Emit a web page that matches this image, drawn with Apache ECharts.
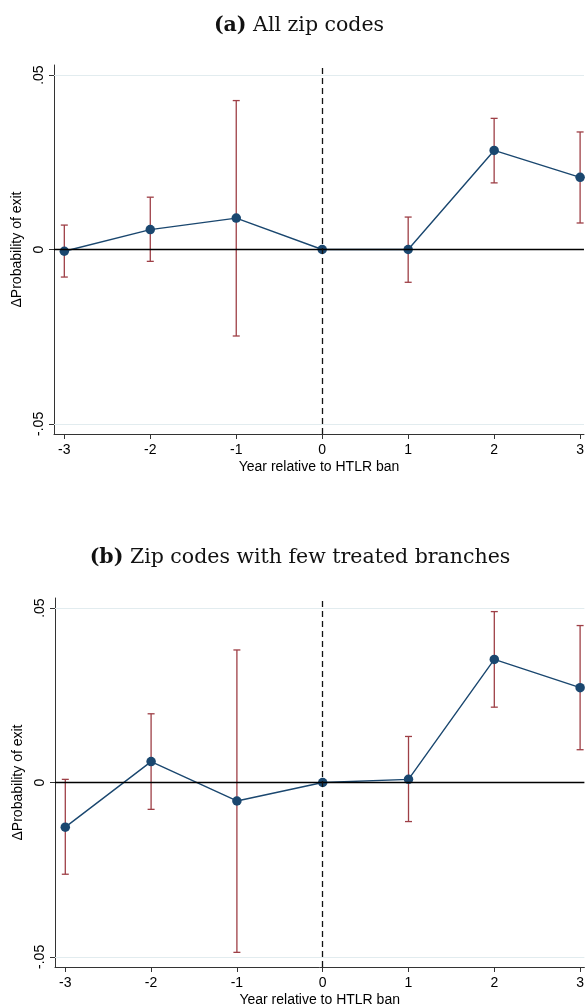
<!DOCTYPE html>
<html>
<head>
<meta charset="utf-8">
<script src="https://cdn.jsdelivr.net/npm/echarts@6/dist/echarts.min.js"></script>
<style>
  html, body { margin: 0; padding: 0; background: #fff; }
  #chart { width: 587px; height: 1008px; }
</style>
</head>
<body>
<div id="chart"></div>
<script>
// Event-study estimates: change in probability of exit by year relative to the HTLR ban
const years = [-3, -2, -1, 0, 1, 2, 3];

// (a) All zip codes
const estAll = [-0.0005, 0.0057, 0.0090, 0, 0.0000, 0.0284, 0.0207];
const loAll  = [-0.0079, -0.0034, -0.0248, null, -0.0094, 0.0191, 0.0076];
const hiAll  = [0.0070, 0.0150, 0.0427, null, 0.0093, 0.0376, 0.0337];

// (b) Zip codes with few treated branches
const estFew = [-0.0128, 0.0060, -0.0053, 0, 0.0009, 0.0353, 0.0272];
const loFew  = [-0.0263, -0.0077, -0.0487, null, -0.0112, 0.0216, 0.0094];
const hiFew  = [0.0009, 0.0197, 0.0380, null, 0.0132, 0.0490, 0.0450];

const xTicks = [-3, -2, -1, 0, 1, 2, 3];
const yTicks = [-0.05, 0, 0.05];

const panelTitles = [
  { tag: '(a)', text: 'All zip codes' },
  { tag: '(b)', text: 'Zip codes with few treated branches' }
];
const xName = 'Year relative to HTLR ban';
const yName = '\u0394Probability of exit';

const NAVY = '#1a476f';
const MAROON = '#9e3f46';
const GRID = '#e2ecef';
const SANS = '"Liberation Sans", Arial, Helvetica, sans-serif';
const SERIF = '"DejaVu Serif", serif';

function yLabel(v) {
  if (Math.abs(v) < 1e-12) return '0';
  return (v < 0 ? '-' : '') + String(Math.abs(v)).replace(/^0\./, '.');
}

function ciItem(params, api) {
  const x = api.value(0);
  const pLo = api.coord([x, api.value(1)]);
  const pHi = api.coord([x, api.value(2)]);
  const w = 3.5;
  const style = { stroke: MAROON, lineWidth: 1.3, fill: null };
  return {
    type: 'group',
    children: [
      { type: 'line', shape: { x1: pLo[0], y1: pLo[1], x2: pHi[0], y2: pHi[1] }, style },
      { type: 'line', shape: { x1: pLo[0] - w, y1: pLo[1], x2: pLo[0] + w, y2: pLo[1] }, style },
      { type: 'line', shape: { x1: pHi[0] - w, y1: pHi[1], x2: pHi[0] + w, y2: pHi[1] }, style }
    ]
  };
}

// plot areas run to the right edge of the page; the x range stops just past 3
const grids = [
  { left: 54, top: 65, right: 0, height: 369 },
  { left: 55, top: 598, right: 0, height: 369 }
];
const xRanges = [[-3.12, 3.045], [-3.12, 3.05]];

const panels = [
  { est: estAll, lo: loAll, hi: hiAll },
  { est: estFew, lo: loFew, hi: hiFew }
];

const xAxes = grids.map((g, i) => ({
  type: 'value', gridIndex: i, min: xRanges[i][0], max: xRanges[i][1],
  axisLine: { show: true, onZero: false, lineStyle: { color: '#333', width: 1 } },
  axisTick: { show: true, customValues: xTicks, length: 5, lineStyle: { color: '#333' } },
  axisLabel: { customValues: xTicks, color: '#000', fontFamily: SANS, fontSize: 14, margin: 9 },
  splitLine: { show: false },
  name: xName, nameLocation: 'middle', nameGap: 26,
  nameTextStyle: { color: '#000', fontFamily: SANS, fontSize: 14 }
}));

const yAxes = grids.map((g, i) => ({
  type: 'value', gridIndex: i, min: -0.0529, max: 0.0529,
  axisLine: { show: true, onZero: false, lineStyle: { color: '#333', width: 1 } },
  axisTick: { show: true, customValues: yTicks, length: 5, lineStyle: { color: '#333' } },
  axisLabel: { customValues: yTicks, rotate: 90, color: '#000', fontFamily: SANS, fontSize: 14, margin: 8, formatter: yLabel },
  splitLine: { show: false },
  name: yName, nameLocation: 'middle', nameGap: 19,
  nameTextStyle: { color: '#000', fontFamily: SANS, fontSize: 14 }
}));

const series = [];
panels.forEach((p, i) => {
  // confidence intervals, reference grid lines and zero line
  series.push({
    type: 'custom', xAxisIndex: i, yAxisIndex: i, z: 2,
    renderItem: ciItem,
    data: years.map((y, k) => [y, p.lo[k], p.hi[k]]).filter(d => d[1] !== null),
    markLine: {
      silent: true, symbol: 'none', label: { show: false },
      data: [
        { yAxis: 0.05, lineStyle: { color: GRID, width: 1.2, type: 'solid' } },
        { yAxis: -0.05, lineStyle: { color: GRID, width: 1.2, type: 'solid' } },
        { yAxis: 0, lineStyle: { color: '#000', width: 1.3, type: 'solid' } }
      ]
    }
  });
  // point estimates
  series.push({
    type: 'line', xAxisIndex: i, yAxisIndex: i, z: 3,
    data: years.map((y, k) => [y, p.est[k]]),
    symbol: 'circle', symbolSize: 9.5, showAllSymbol: true,
    lineStyle: { color: NAVY, width: 1.4 },
    itemStyle: { color: NAVY },
    animation: false
  });
  // ban year marker
  series.push({
    type: 'line', xAxisIndex: i, yAxisIndex: i, z: 5, data: [],
    markLine: {
      silent: true, symbol: 'none', label: { show: false },
      data: [{ xAxis: 0, lineStyle: { color: '#111', width: 1.3, type: [6, 4] } }]
    }
  });
});

const titleCenters = [[299, 26], [300, 558]];
const graphic = panelTitles.map((t, i) => ({
  type: 'text', x: titleCenters[i][0], y: titleCenters[i][1],
  style: {
    text: '{b|' + t.tag + '} ' + t.text,
    fontFamily: SERIF, fontSize: 20.5, fill: '#111',
    align: 'center', verticalAlign: 'middle',
    rich: { b: { fontFamily: SERIF, fontSize: 20.5, fontWeight: 'bold', fill: '#111' } }
  }
}));

const chart = echarts.init(document.getElementById('chart'), null, { renderer: 'canvas' });
chart.setOption({
  animation: false,
  backgroundColor: '#fff',
  grid: grids,
  xAxis: xAxes,
  yAxis: yAxes,
  series: series,
  graphic: graphic
});
</script>
</body>
</html>
